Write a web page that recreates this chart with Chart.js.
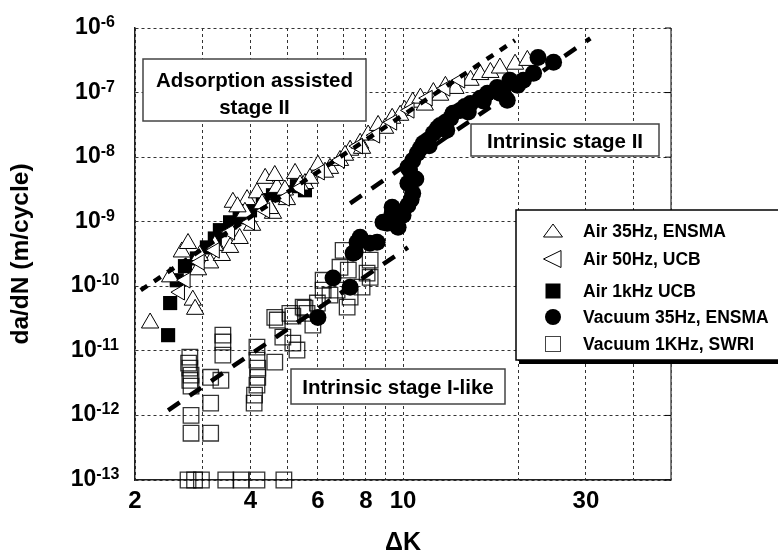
<!DOCTYPE html>
<html>
<head>
<meta charset="utf-8">
<script src="https://cdn.jsdelivr.net/npm/chart.js@4/dist/chart.umd.min.js"></script>
<style>
  html, body { margin: 0; padding: 0; background: #fff; }
  canvas { display: block; }
</style>
</head>
<body>
<canvas id="crackChart" width="778" height="557"></canvas>
<script>
// Axis ticks
const xTicks = [2, 3, 4, 5, 6, 7, 8, 9, 10, 20, 30, 40, 50];
const xLabelled = [2, 4, 6, 8, 10, 30];
const yTicks = [1e-13, 1e-12, 1e-11, 1e-10, 1e-9, 1e-8, 1e-7, 1e-6];

// Series: [deltaK, da/dN]
const air35Hz = [
  [2.19, 2.7e-11], [2.47, 1.4e-10], [2.83, 6.1e-11], [2.87, 4.4e-11], [2.65, 3.4e-10],
  [2.75, 4.6e-10], [2.92, 1.8e-10], [3.14, 2.3e-10], [2.95, 3.0e-10], [3.37, 3.0e-10],
  [3.54, 4.0e-10], [3.75, 5.5e-10], [3.23, 4.3e-10], [3.92, 2.2e-9], [3.87, 1.4e-9],
  [3.6, 2.0e-9], [3.7, 1.7e-9], [4.16, 2.8e-9], [4.29, 1.9e-9], [4.58, 1.35e-9],
  [4.69, 3.4e-9], [4.98, 2.2e-9], [4.50, 1.6e-9], [4.37, 4.7e-9], [4.63, 5.2e-9],
  [5.23, 5.6e-9], [5.55, 3.9e-9], [6.00, 7.5e-9], [6.45, 6.7e-9], [6.85, 8.9e-9],
  [7.28, 1.28e-8], [7.73, 1.64e-8], [8.11, 2.2e-8], [8.61, 3.1e-8], [9.37, 4.0e-8],
  [10.1, 5.3e-8], [10.6, 7.1e-8], [11.1, 8.2e-8], [12.0, 1.0e-7], [12.9, 1.25e-7],
  [13.7, 1.16e-7], [15.0, 1.55e-7], [15.9, 1.9e-7], [16.9, 2.05e-7], [17.9, 2.4e-7],
  [19.6, 2.75e-7], [21.1, 3.15e-7], [12.5, 9.1e-8], [11.4, 6.4e-8], [9.83, 4.45e-8],
  [8.98, 2.8e-8], [7.82, 1.37e-8], [7.06, 1.07e-8], [6.26, 5.85e-9], [5.72, 4.7e-9],
  [5.39, 3.7e-9], [4.92, 3.1e-9], [4.04, 8.8e-10]
];
const air50Hz = [
  [2.62, 8.1e-11], [2.71, 1.24e-10], [2.95, 2.36e-10], [3.23, 3.6e-10], [3.54, 6.9e-10],
  [3.99, 9.8e-10], [4.37, 1.5e-9], [4.92, 2.3e-9], [5.39, 3.3e-9], [6.07, 5.85e-9],
  [6.85, 8.9e-9], [7.63, 1.48e-8], [8.46, 2.18e-8], [9.37, 3.46e-8], [10.4, 5.3e-8],
  [11.6, 8.2e-8], [12.9, 1.16e-7], [14.1, 1.55e-7]
];
const air1kHz = [
  [2.44, 1.75e-11], [2.47, 5.5e-11], [2.57, 1.24e-10], [2.70, 2.05e-10], [2.90, 2.7e-10],
  [3.08, 4.0e-10], [3.23, 5.5e-10], [3.33, 7.4e-10], [3.54, 9.8e-10], [3.75, 1.17e-9],
  [3.99, 1.5e-9], [4.31, 2.16e-9], [4.58, 2.57e-9], [4.86, 2.86e-9], [5.29, 3.55e-9],
  [5.55, 3.07e-9]
];
const vacuum35Hz = [
  [6.00, 3.3e-11], [6.57, 1.34e-10], [7.28, 9.7e-11], [7.50, 3.4e-10], [7.41, 3.25e-10],
  [7.59, 4.8e-10], [7.73, 5.75e-10], [8.2, 4.65e-10], [8.56, 4.8e-10], [8.87, 9.8e-10],
  [9.09, 9.5e-10], [9.37, 1.35e-9], [9.71, 8.2e-10], [9.37, 1.67e-9], [10.0, 1.26e-9],
  [10.3, 1.8e-9], [10.6, 2.76e-9], [10.3, 3.95e-9], [10.4, 6.3e-9], [10.3, 7e-9],
  [10.6, 8.9e-9], [10.9, 1.15e-8], [11.1, 1.37e-8], [11.3, 1.64e-8], [11.6, 1.83e-8],
  [12.0, 2.35e-8], [12.3, 2.8e-8], [12.5, 3.1e-8], [12.9, 3.46e-8], [13.3, 4.0e-8],
  [13.5, 4.8e-8], [14.1, 5.3e-8], [14.5, 6.1e-8], [15.0, 6.8e-8], [15.9, 8.2e-8],
  [16.6, 9.75e-8], [17.6, 1.2e-7], [17.9, 9.8e-8], [18.7, 7.6e-8], [19.0, 1.55e-7],
  [19.9, 1.3e-7], [20.6, 1.55e-7], [21.9, 2.0e-7], [22.5, 3.5e-7], [24.7, 2.94e-7],
  [10.5, 2.2e-9], [10.8, 4.6e-9], [11.7, 1.5e-8], [13.0, 2.6e-8], [14.8, 5.0e-8],
  [16.2, 7.4e-8], [18.2, 1.1e-7]
];
const vacuum1kHz = [
  [2.75, 1e-13], [2.86, 1e-13], [2.98, 1e-13], [3.45, 1e-13], [3.78, 1e-13], [4.16, 1e-13], [4.89, 1e-13],
  [2.78, 8.0e-12], [2.76, 6.45e-12], [2.78, 5.4e-12], [2.80, 4.2e-12], [2.78, 3.5e-12],
  [2.80, 2.84e-12], [2.80, 1.0e-12], [2.80, 5.3e-13],
  [3.15, 3.9e-12], [3.35, 3.5e-12], [3.15, 1.55e-12], [3.15, 5.3e-13],
  [3.39, 1.75e-11], [3.39, 1.37e-11], [3.39, 8.6e-12],
  [4.16, 1.14e-11], [4.16, 7.2e-12], [4.18, 5.4e-12], [4.18, 3.9e-12], [4.16, 2.94e-12],
  [4.10, 2.06e-12], [4.09, 1.55e-12], [4.63, 6.7e-12],
  [4.63, 3.3e-11], [4.70, 3.0e-11], [5.07, 3.8e-11], [5.16, 3.45e-11], [4.86, 1.63e-11],
  [5.16, 1.32e-11], [5.29, 1.03e-11], [5.49, 4.75e-11], [5.62, 3.8e-11], [5.82, 2.5e-11],
  [5.55, 4.6e-11], [5.98, 5.5e-11], [6.19, 8.7e-11], [6.19, 1.24e-10], [6.45, 7.3e-11],
  [6.73, 8.7e-11], [6.98, 3.6e-10], [6.85, 1.97e-10], [7.2, 1.78e-10], [7.15, 4.75e-11],
  [7.28, 6.8e-11], [7.82, 9.7e-11], [8.06, 1.6e-10], [8.21, 2.54e-10], [8.21, 1.38e-10]
];

// Fitted trend lines (end points)
const airFit = [[2.07, 8.7e-11], [19.6, 6.45e-7]];
const vacStageIIFit = [[7.28, 1.93e-9], [30.8, 6.9e-7]];
const vacStageIFit = [[2.44, 1.2e-12], [10.3, 4.0e-10]];

const legendLabels = ["Air 35Hz, ENSMA", "Air 50Hz, UCB", "Air 1kHz UCB", "Vacuum 35Hz, ENSMA", "Vacuum 1KHz, SWRI"];

const FONT = '"Liberation Sans", Arial, sans-serif';
const toXY = arr => arr.map(p => ({ x: p[0], y: p[1] }));

function fitLine(data, dash, order) {
  return {
    data: toXY(data),
    showLine: true,
    borderColor: "#000",
    borderWidth: 4.5,
    borderDash: dash,
    pointRadius: 0,
    fill: false,
    clip: false,
    order: order
  };
}

// Boxes, legend, y tick labels, right frame
const decor = {
  id: "decor",
  afterDraw(chart) {
    const { ctx, chartArea: a, scales: { y } } = chart;
    ctx.save();

    // right frame and small decade ticks
    ctx.strokeStyle = "#555";
    ctx.lineWidth = 1.5;
    ctx.beginPath();
    ctx.moveTo(a.right, a.top);
    ctx.lineTo(a.right, a.bottom);
    ctx.stroke();
    ctx.strokeStyle = "#000";
    ctx.lineWidth = 1;
    yTicks.forEach(v => {
      const py = y.getPixelForValue(v);
      ctx.beginPath();
      ctx.moveTo(a.right - 6, py);
      ctx.lineTo(a.right, py);
      ctx.stroke();
    });

    // y tick labels as 10 with exponent
    ctx.fillStyle = "#000";
    ctx.textAlign = "left";
    ctx.textBaseline = "alphabetic";
    yTicks.forEach(v => {
      const py = y.getPixelForValue(v);
      const sup = "-" + Math.abs(Math.round(Math.log10(v)));
      ctx.font = "bold 23px " + FONT;
      const w10 = ctx.measureText("10").width;
      ctx.font = "bold 16px " + FONT;
      const ws = ctx.measureText(sup).width;
      const x0 = 95 - (w10 + ws) / 2;
      ctx.font = "bold 23px " + FONT;
      ctx.fillText("10", x0, py + 6);
      ctx.font = "bold 16px " + FONT;
      ctx.fillText(sup, x0 + w10, py - 1);
    });

    // annotation boxes
    function box(x1, y1, x2, y2, lines) {
      ctx.fillStyle = "#fff";
      ctx.fillRect(x1, y1, x2 - x1, y2 - y1);
      ctx.strokeStyle = "#444";
      ctx.lineWidth = 1.5;
      ctx.strokeRect(x1, y1, x2 - x1, y2 - y1);
      ctx.fillStyle = "#000";
      ctx.font = "bold 20.5px " + FONT;
      ctx.textAlign = "center";
      lines.forEach(l => ctx.fillText(l[0], (x1 + x2) / 2, l[1]));
    }
    box(143, 59, 366, 121, [["Adsorption assisted", 87], ["stage II", 114]]);
    box(471, 124, 659, 156, [["Intrinsic stage II", 148]]);
    box(291, 369, 505, 404, [["Intrinsic stage I-like", 394]]);

    // legend
    ctx.fillStyle = "#000";
    ctx.fillRect(519, 214, 270, 150);
    ctx.fillStyle = "#fff";
    ctx.fillRect(516, 210, 270, 150);
    ctx.strokeStyle = "#000";
    ctx.lineWidth = 1.5;
    ctx.strokeRect(516, 210, 270, 150);

    const mx = 553;
    const rows = [231, 259, 291, 317, 344];
    ctx.lineWidth = 1;
    // triangle up
    ctx.beginPath();
    ctx.moveTo(mx, rows[0] - 7); ctx.lineTo(mx + 9.5, rows[0] + 6); ctx.lineTo(mx - 9.5, rows[0] + 6);
    ctx.closePath(); ctx.stroke();
    // triangle left
    ctx.beginPath();
    ctx.moveTo(mx - 9.5, rows[1]); ctx.lineTo(mx + 8, rows[1] - 8.5); ctx.lineTo(mx + 8, rows[1] + 8.5);
    ctx.closePath(); ctx.stroke();
    // filled square
    ctx.fillStyle = "#000";
    ctx.fillRect(mx - 7.5, rows[2] - 7.5, 15, 15);
    // circle
    ctx.beginPath();
    ctx.arc(mx, rows[3], 8, 0, Math.PI * 2);
    ctx.fill();
    // open square
    ctx.strokeStyle = "#444";
    ctx.strokeRect(mx - 7.5, rows[4] - 7.5, 15, 15);

    ctx.fillStyle = "#000";
    ctx.font = "bold 17.5px " + FONT;
    ctx.textAlign = "left";
    legendLabels.forEach((t, i) => ctx.fillText(t, 583, rows[i] + 6));

    ctx.restore();
  }
};

new Chart(document.getElementById("crackChart"), {
  type: "scatter",
  data: {
    datasets: [
      fitLine(airFit, [8, 8], 0),
      fitLine(vacStageIIFit, [14, 12], 0),
      fitLine(vacStageIFit, [14, 12], 0),
      {
        label: legendLabels[4],
        data: toXY(vacuum1kHz),
        pointStyle: "rect",
        pointRadius: 11,
        backgroundColor: "rgba(0,0,0,0)",
        borderColor: "rgba(0,0,0,0.8)",
        borderWidth: 1.3,
        clip: false,
        order: 1
      },
      {
        label: legendLabels[3],
        data: toXY(vacuum35Hz),
        pointStyle: "circle",
        pointRadius: 8.5,
        backgroundColor: "#000",
        borderColor: "#000",
        borderWidth: 0,
        clip: false,
        order: 2
      },
      {
        label: legendLabels[1],
        data: toXY(air50Hz),
        pointStyle: "triangle",
        rotation: -90,
        pointRadius: 9,
        backgroundColor: "#fff",
        borderColor: "#000",
        borderWidth: 1,
        clip: false,
        order: 3
      },
      {
        label: legendLabels[0],
        data: toXY(air35Hz),
        pointStyle: "triangle",
        pointRadius: 10,
        backgroundColor: "#fff",
        borderColor: "#000",
        borderWidth: 1,
        clip: false,
        order: 4
      },
      {
        label: legendLabels[2],
        data: toXY(air1kHz),
        pointStyle: "rect",
        pointRadius: 10,
        backgroundColor: "#000",
        borderColor: "#000",
        borderWidth: 0,
        clip: false,
        order: 5
      }
    ]
  },
  options: {
    responsive: false,
    animation: false,
    devicePixelRatio: 1,
    events: [],
    layout: { padding: { top: 28, right: 107, left: 0, bottom: 0 } },
    plugins: {
      legend: { display: false },
      tooltip: { enabled: false }
    },
    scales: {
      x: {
        type: "logarithmic",
        min: 2,
        max: 50,
        afterBuildTicks: scale => { scale.ticks = xTicks.map(v => ({ value: v })); },
        afterFit: scale => { scale.height = 77; },
        grid: { color: "#333", lineWidth: 1, drawTicks: false },
        border: { display: true, color: "#222", width: 1.5, dash: [3, 3] },
        ticks: {
          autoSkip: false,
          maxRotation: 0,
          padding: 7,
          color: "#000",
          font: { family: FONT, size: 24, weight: "bold" },
          callback: v => (xLabelled.includes(v) ? String(v) : "")
        },
        title: {
          display: true,
          text: "ΔK",
          color: "#000",
          font: { family: FONT, size: 25, weight: "bold", lineHeight: 1 },
          padding: { top: 0, bottom: 1 }
        }
      },
      y: {
        type: "logarithmic",
        min: 1e-13,
        max: 1e-6,
        afterBuildTicks: scale => { scale.ticks = yTicks.map(v => ({ value: v })); },
        afterFit: scale => { scale.width = 135; },
        grid: { color: "#333", lineWidth: 1, drawTicks: false },
        border: { display: true, color: "#222", width: 1.5, dash: [3, 3] },
        ticks: { display: false },
        title: {
          display: true,
          text: "da/dN (m/cycle)",
          color: "#000",
          font: { family: FONT, size: 24.5, weight: "bold", lineHeight: 1 },
          padding: { top: 9, bottom: 0 }
        }
      }
    }
  },
  plugins: [decor]
});
</script>
</body>
</html>
